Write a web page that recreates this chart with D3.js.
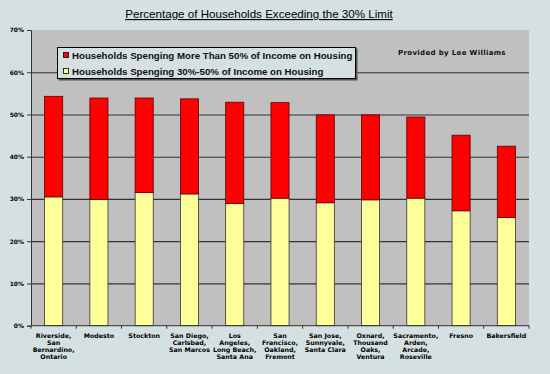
<!DOCTYPE html>
<html>
<head>
<meta charset="utf-8">
<script src="https://cdn.jsdelivr.net/npm/d3@7"></script>
<style>
  body { margin: 0; background: #d4e0e2; }
  svg { display: block; }
</style>
</head>
<body>
<div id="chart"></div>
<script>
var W = 550, H = 374;
var margin = {top: 30, right: 21, bottom: 48, left: 31};
var width = W - margin.left - margin.right;
var height = 325.7 - margin.top;

var cities = [
  ["Riverside,", "San", "Bernardino,", "Ontario"],
  ["Modesto"],
  ["Stockton"],
  ["San Diego,", "Carlsbad,", "San Marcos"],
  ["Los", "Angeles,", "Long Beach,", "Santa Ana"],
  ["San", "Francisco,", "Oakland,", "Fremont"],
  ["San Jose,", "Sunnyvale,", "Santa Clara"],
  ["Oxnard,", "Thousand", "Oaks,", "Ventura"],
  ["Sacramento,", "Arden,", "Arcade,", "Roseville"],
  ["Fresno"],
  ["Bakersfield"]
];
// share of households (percent)
var pct30to50 = [30.5, 29.9, 31.5, 31.2, 28.9, 30.2, 29.1, 29.8, 30.2, 27.2, 25.6];
var totalOver30 = [54.3, 53.9, 53.9, 53.7, 52.9, 52.8, 49.9, 49.9, 49.4, 45.1, 42.5];
var pctOver50 = totalOver30.map(function(t, i) { return +(t - pct30to50[i]).toFixed(1); });
var yTicks = [0, 10, 20, 30, 40, 50, 60, 70];
var seriesNames = ["Households Spenging More Than 50% of Income on Housing",
                   "Households Spenging 30%-50% of Income on Housing"];
var colors = ["#ff0000", "#ffff99"];

var svg = d3.select("#chart").append("svg")
    .attr("width", W).attr("height", H);

// title
svg.append("text")
  .attr("x", 259).attr("y", 18)
  .attr("text-anchor", "middle")
  .attr("font-family", "Liberation Sans, Arial, sans-serif")
  .attr("font-size", 11.6)
  .attr("text-decoration", "underline")
  .attr("fill", "#000")
  .text("Percentage of Households Exceeding the 30% Limit");

var g = svg.append("g")
  .attr("transform", "translate(" + margin.left + "," + margin.top + ")");

var x = d3.scaleBand()
  .domain(d3.range(cities.length))
  .range([0, width])
  .paddingInner(0.6).paddingOuter(0.3);

var y = d3.scaleLinear().domain([0, 70]).range([height, 0]);

g.append("rect")
  .attr("width", width).attr("height", height)
  .attr("fill", "#c0c0c0");

// gridlines
g.selectAll(".grid").data(yTicks.slice(1, -1)).enter().append("line")
  .attr("x1", 0).attr("x2", width)
  .attr("y1", function(d) { return y(d) + 0.5; })
  .attr("y2", function(d) { return y(d) + 0.5; })
  .attr("stroke", "#333").attr("stroke-width", 1.2);

var stack = cities.map(function(c, i) {
  return {i: i, low: pct30to50[i], high: pctOver50[i]};
});

// yellow part
g.selectAll(".low").data(stack).enter().append("rect")
  .attr("x", function(d) { return x(d.i); })
  .attr("width", x.bandwidth())
  .attr("y", function(d) { return y(d.low); })
  .attr("height", function(d) { return y(0) - y(d.low); })
  .attr("fill", colors[1]).attr("stroke", "#333").attr("stroke-width", 0.8);

// red part
g.selectAll(".high").data(stack).enter().append("rect")
  .attr("x", function(d) { return x(d.i); })
  .attr("width", x.bandwidth())
  .attr("y", function(d) { return y(d.low + d.high); })
  .attr("height", function(d) { return y(d.low) - y(d.low + d.high); })
  .attr("fill", colors[0]).attr("stroke", "#5a0000").attr("stroke-width", 0.8);

// y axis
var yAxis = g.append("g")
  .call(d3.axisLeft(y).tickValues(yTicks).tickSize(4).tickFormat(function(d) { return d + "%"; }));
yAxis.select(".domain").attr("stroke", "#333");
yAxis.selectAll(".tick line").attr("stroke", "#333");
yAxis.selectAll("text")
  .attr("font-family", "DejaVu Sans, Verdana, sans-serif")
  .attr("font-size", 6).attr("font-weight", "bold").attr("fill", "#000")
  .attr("x", -7);

// x axis
var xAxis = g.append("g").attr("transform", "translate(0," + height + ")");
xAxis.append("line").attr("x1", 0).attr("x2", width).attr("stroke", "#333");
xAxis.selectAll(".sep").data(d3.range(cities.length + 1)).enter().append("line")
  .attr("x1", function(d) { return d * width / cities.length; })
  .attr("x2", function(d) { return d * width / cities.length; })
  .attr("y1", 0).attr("y2", 3).attr("stroke", "#333");

var labels = xAxis.selectAll(".lab").data(cities).enter().append("text")
  .attr("text-anchor", "middle")
  .attr("font-family", "DejaVu Sans, Verdana, sans-serif")
  .attr("font-size", 6.3).attr("font-weight", "bold").attr("fill", "#000")
  .attr("transform", function(d, i) { return "translate(" + (x(i) + x.bandwidth() / 2) + ",12)"; });
labels.selectAll("tspan").data(function(d) { return d; }).enter().append("tspan")
  .attr("x", 0).attr("dy", function(d, i) { return i ? 7 : 0; })
  .text(function(d) { return d; });

// legend
var legend = svg.append("g").attr("transform", "translate(57,47)");
legend.append("rect").attr("x", 1.5).attr("y", 1.5).attr("width", 299).attr("height", 32).attr("fill", "#555");
legend.append("rect").attr("x", 0.5).attr("y", 0.5).attr("width", 298).attr("height", 31)
  .attr("fill", "#d4e0e2").attr("stroke", "#000");
seriesNames.forEach(function(name, i) {
  var ly = 8 + i * 16;
  legend.append("rect").attr("x", 6.5).attr("y", ly - 2.5).attr("width", 5).attr("height", 5)
    .attr("fill", colors[i]).attr("stroke", "#000").attr("stroke-width", 0.8);
  legend.append("text").attr("x", 15).attr("y", ly + 3.5)
    .attr("font-family", "Liberation Sans, Arial, sans-serif")
    .attr("font-size", 9.7).attr("font-weight", "bold").attr("fill", "#111")
    .text(name);
});

svg.append("text")
  .attr("x", 398).attr("y", 55)
  .attr("font-family", "DejaVu Sans, Verdana, sans-serif")
  .attr("font-size", 7).attr("font-weight", "bold").attr("fill", "#111")
  .attr("letter-spacing", 0.35)
  .text("Provided by Lee Williams");
</script>
</body>
</html>
